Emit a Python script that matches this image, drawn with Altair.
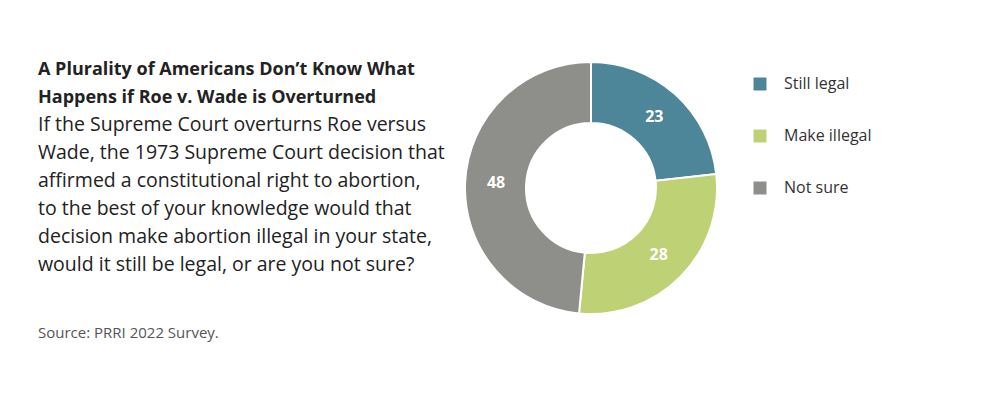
import altair as alt
import pandas as pd

categories = ["Still legal", "Make illegal", "Not sure"]
values = [23, 28, 48]
colors = ["#4e8699", "#bfd175", "#8e8e8a"]

title_lines = ["A Plurality of Americans Don\u2019t Know What",
               "Happens if Roe v. Wade is Overturned"]
body_lines = ["If the Supreme Court overturns Roe versus",
              "Wade, the 1973 Supreme Court decision that",
              "affirmed a constitutional right to abortion,",
              "to the best of your knowledge would that",
              "decision make abortion illegal in your state,",
              "would it still be legal, or are you not sure?"]
source_text = "Source: PRRI 2022 Survey."

df = pd.DataFrame({"cat": categories, "val": values, "idx": list(range(len(categories)))})

FONT = "Open Sans"
CX, CY = 583, 180

base = alt.Chart(df).encode(
    theta=alt.Theta("val:Q", stack=True),
    order=alt.Order("idx:O"),
)

arcs = base.mark_arc(outerRadius=126, innerRadius=65, stroke="white", strokeWidth=2).encode(
    x=alt.value(CX), y=alt.value(CY),
    color=alt.Color("cat:N", scale=alt.Scale(domain=categories, range=colors),
                    legend=alt.Legend(title=None, orient="none", legendX=744, legendY=68,
                                      symbolType="square", symbolSize=169, symbolStrokeWidth=0,
                                      labelFont=FONT, labelFontSize=16, labelColor="#333333",
                                      labelOffset=16, rowPadding=36)),
)

labels = base.mark_text(radius=95, font=FONT, fontSize=16, fontWeight="bold", color="white").encode(
    x=alt.value(CX), y=alt.value(CY), text=alt.Text("val:Q"),
)

one = pd.DataFrame({"k": [0]})
title_t = alt.Chart(one).mark_text(align="left", baseline="alphabetic", font=FONT, fontSize=18,
                                   fontWeight="bold", color="#222222", lineHeight=28).encode(
    x=alt.value(30), y=alt.value(67), text=alt.value(title_lines))
body_t = alt.Chart(one).mark_text(align="left", baseline="alphabetic", font=FONT, fontSize=19.5,
                                  color="#222222", lineHeight=28).encode(
    x=alt.value(30), y=alt.value(123), text=alt.value(body_lines))
source_t = alt.Chart(one).mark_text(align="left", baseline="alphabetic", font=FONT, fontSize=15,
                                    color="#555555").encode(
    x=alt.value(30), y=alt.value(330), text=alt.value(source_text))

chart = alt.layer(arcs, labels, title_t, body_t, source_t).properties(
    width=990, height=378, padding=0, autosize=alt.AutoSizeParams(type="none"),
    background="white",
).configure_view(stroke=None)

chart.save("out.html", embed_options={"renderer": "svg", "actions": False})
